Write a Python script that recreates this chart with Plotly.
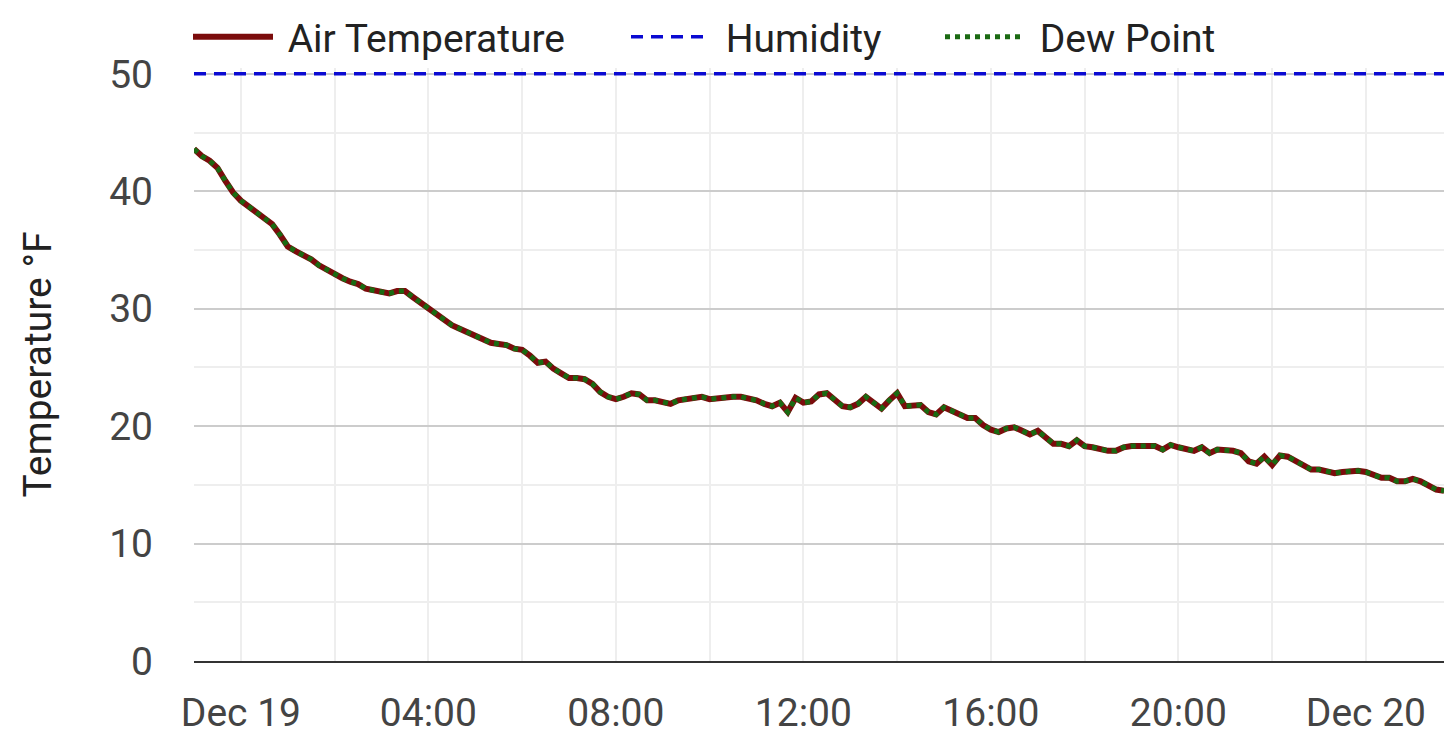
import pandas as pd
import plotly.graph_objects as go

# readings every 10 minutes, Dec 18 23:00 -> Dec 20 01:40
times = pd.date_range('2023-12-18 23:00', '2023-12-20 01:40', freq='10min')

air_temp = [
    43.6, 43.0, 42.6, 42.0, 40.9, 39.9, 39.2, 38.7, 38.2, 37.8,
    37.2, 36.3, 35.3, 34.9, 34.6, 34.2, 33.7, 33.3, 33.0, 32.6,
    32.3, 32.1, 31.7, 31.6, 31.4, 31.3, 31.5, 31.5, 31.0, 30.5,
    30.0, 29.5, 29.0, 28.6, 28.3, 28.0, 27.8, 27.4, 27.1, 27.0,
    26.9, 26.6, 26.5, 26.0, 25.4, 25.5, 24.9, 24.5, 24.1, 24.1,
    24.0, 23.6, 22.9, 22.5, 22.3, 22.5, 22.8, 22.7, 22.2, 22.2,
    22.1, 21.9, 22.2, 22.3, 22.3, 22.5, 22.3, 22.4, 22.5, 22.5,
    22.5, 22.4, 22.2, 21.9, 21.7, 22.0, 21.2, 22.4, 22.0, 22.1,
    22.7, 22.8, 22.3, 21.7, 21.6, 21.9, 22.5, 22.0, 21.5, 22.2,
    22.8, 21.7, 21.7, 21.8, 21.2, 21.0, 21.6, 21.3, 21.1, 20.7,
    20.7, 20.1, 19.7, 19.5, 19.8, 19.9, 19.6, 19.3, 19.6, 19.0,
    18.5, 18.5, 18.3, 18.8, 18.3, 18.2, 18.0, 17.9, 17.9, 18.2,
    18.3, 18.3, 18.3, 18.3, 18.0, 18.4, 18.2, 18.1, 17.9, 18.2,
    17.7, 18.0, 18.0, 17.9, 17.7, 17.0, 16.8, 17.4, 16.7, 17.5,
    17.4, 17.0, 16.7, 16.3, 16.3, 16.1, 16.0, 16.1, 16.2, 16.2,
    16.1, 15.8, 15.6, 15.6, 15.3, 15.3, 15.5, 15.3, 14.9, 14.6,
    14.5,
]
dew_point = list(air_temp)
humidity = [50] * len(times)

tick_vals = pd.date_range('2023-12-19 00:00', '2023-12-20 00:00', freq='4h')
tick_text = ['Dec 19', '04:00', '08:00', '12:00', '16:00', '20:00', 'Dec 20']

FS = 39
NB = '\u00a0'  # small gap between legend line and label

fig = go.Figure()
fig.add_trace(go.Scatter(x=times, y=air_temp, name=NB + 'Air Temperature', mode='lines',
                         line=dict(color='#7b0c0c', width=6), legend='legend'))
fig.add_trace(go.Scatter(x=times, y=humidity, name=NB + 'Humidity', mode='lines',
                         line=dict(color='#0a0ad2', width=3.5, dash='12px,8px'), legend='legend2'))
fig.add_trace(go.Scatter(x=times, y=dew_point, name=NB + 'Dew Point', mode='lines',
                         line=dict(color='#1a6a12', width=5, dash='5px,5px'), legend='legend3'))

W, H = 1444, 754
leg = dict(orientation='h', xref='container', yref='container', y=1 - 37 / H,
           xanchor='left', yanchor='middle',
           itemwidth=80, font=dict(size=FS, color='#222'), bgcolor='rgba(0,0,0,0)')

fig.update_layout(
    width=W, height=H, showlegend=True,
    margin=dict(l=194, r=0, t=68, b=93, autoexpand=False),
    paper_bgcolor='white', plot_bgcolor='white',
    font=dict(family='Roboto', size=FS, color='#222'),
    legend=dict(leg, x=188 / W),
    legend2=dict(leg, x=626 / W),
    legend3=dict(leg, x=940 / W),
    xaxis=dict(
        range=[times[0], times[-1]],
        tickvals=tick_vals, ticktext=tick_text,
        tickfont=dict(size=FS, color='#444'),
        showgrid=True, gridcolor='#eeeeee', gridwidth=2,
        minor=dict(dtick=2 * 3600 * 1000, tick0='2023-12-19', showgrid=True,
                   gridcolor='#eeeeee', gridwidth=2),
        showline=True, linecolor='#333', linewidth=2,
        ticks='', ticklabelstandoff=16,
    ),
    yaxis=dict(
        range=[0, 50.5], dtick=10,
        tickfont=dict(size=FS, color='#444'),
        showgrid=True, gridcolor='#cccccc', gridwidth=2,
        minor=dict(dtick=5, showgrid=True, gridcolor='#eeeeee', gridwidth=2),
        zeroline=False, ticks='', ticklabelstandoff=40,
        title=dict(text='Temperature °F', font=dict(size=FS, color='#222'), standoff=45),
        automargin=False,
    ),
)

# drop the page's default body margin so the figure fills the window
fig.write_html("out.html", config={'displayModeBar': False},
               post_script="document.body.style.margin = '0';")
